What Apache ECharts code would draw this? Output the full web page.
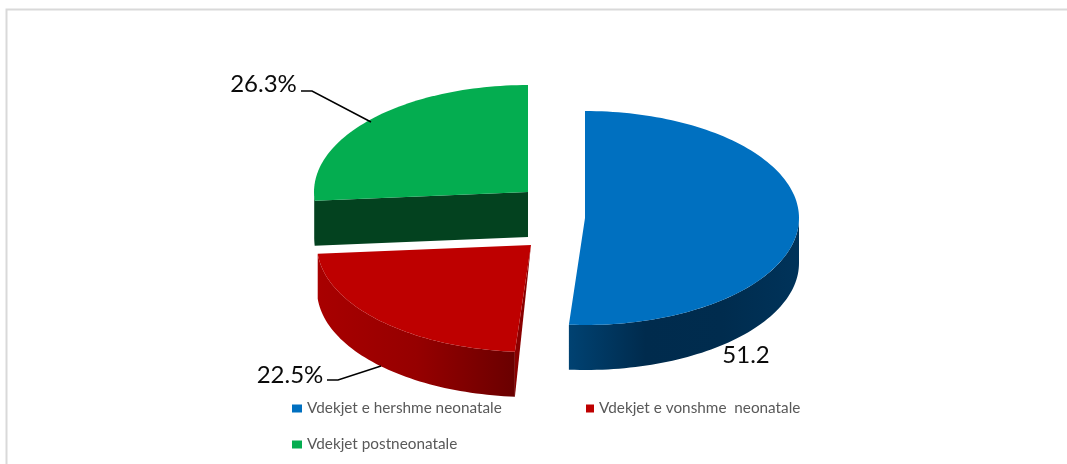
<!DOCTYPE html>
<html>
<head>
<meta charset="utf-8">
<style>html,body{margin:0;padding:0;background:#fff}#c{width:1067px;height:464px}</style>
<script src="https://cdn.jsdelivr.net/npm/echarts@6/dist/echarts.min.js"></script>
</head>
<body>
<div id="c"></div>
<script>
const categories = ['Vdekjet e hershme neonatale', 'Vdekjet e vonshme  neonatale', 'Vdekjet postneonatale'];
const values = [51.2, 22.5, 26.3];
const valueLabels = ['51.2', '22.5%', '26.3%'];

const RX = 214, RY = 107, DEPTH = 45;
const total = values.reduce((a, b) => a + b, 0);
const styles = [
  { cx: 585, cy: 218, top: '#0070C0', side: ['#004272', '#002B4D', '#002C4E', '#00335A'], cut: null,
    label: [746, 355], leader: null },
  { cx: 531, cy: 245, top: '#BE0000', side: ['#A80000', '#960000', '#6A0000'], cut: { color: '#8A0000', apex: 0, edge: 'start' },
    label: [290, 375], leader: [[327, 380], [338, 380], [381, 366]] },
  { cx: 528, cy: 192, top: '#04AD50', side: ['#03421F', '#03421F'], cut: { color: '#03421F', apex: 1, edge: 'start' },
    label: [263.5, 84], leader: [[301, 91], [312, 91], [371, 122]] }
];

function arcPoint(s, deg, dy) {
  const t = deg * Math.PI / 180;
  return [s.cx + RX * Math.sin(t), s.cy - RY * Math.cos(t) + (dy || 0)];
}
function arcPoints(s, a, b, dy) {
  const pts = [], n = Math.max(2, Math.ceil(Math.abs(b - a) / 1.5));
  for (let i = 0; i <= n; i++) pts.push(arcPoint(s, a + (b - a) * i / n, dy));
  return pts;
}
function makeRender(idx) {
  return function (params, api) {
    const v = api.value(0);
    let before = 0;
    for (let i = 0; i < idx; i++) before += values[i];
    const a = before / total * 360, b = a + v / total * 360;
    const s = styles[idx], children = [];
    const wa = Math.max(a, 90), wb = Math.min(b, 270);
    if (wb > wa) {
      const front = arcPoints(s, wa, wb, 0), back = arcPoints(s, wb, wa, DEPTH);
      let stops = s.side.map((c, i) => ({ offset: i / (s.side.length - 1), color: c }));
      children.push({ type: 'polygon', shape: { points: front.concat(back) },
        style: { fill: { type: 'linear', x: 0, y: 0, x2: 1, y2: 0, colorStops: stops } } });
    }
    if (s.cut) {
      const e0 = arcPoint(s, a, 0), e1 = arcPoint(s, a, DEPTH);
      const pts = [[s.cx, s.cy], e0, e1];
      if (s.cut.apex) pts.push([s.cx, s.cy + DEPTH * s.cut.apex]);
      children.push({ type: 'polygon', shape: { points: pts }, style: { fill: s.cut.color } });
    }
    children.push({ type: 'polygon', shape: { points: [[s.cx, s.cy]].concat(arcPoints(s, a, b, 0)) },
      style: { fill: s.top } });
    if (s.leader) children.push({ type: 'polyline', shape: { points: s.leader },
      style: { fill: 'none', stroke: '#000', lineWidth: 1.5 } });
    children.push({ type: 'text', x: s.label[0], y: s.label[1],
      style: { text: valueLabels[idx], fill: '#0a0a0a', font: '24px Lato', textAlign: 'center', textVerticalAlign: 'middle' } });
    return { type: 'group', children };
  };
}

const chart = echarts.init(document.getElementById('c'), null, { renderer: 'canvas' });
const legendPos = [[292, 401], [586, 401], [292, 437]];
const legendIconWidth = [10, 8, 10];
const drawOrder = [2, 1, 0];
chart.setOption({
  animation: false,
  backgroundColor: '#fff',
  graphic: [{ type: 'rect', silent: true, shape: { x: 6.5, y: 9.5, width: 1200, height: 600 },
    style: { fill: 'none', stroke: '#D9D9D9', lineWidth: 2 }, z: -10 }],
  legend: categories.map((name, i) => ({
    data: [name], left: legendPos[i][0], top: legendPos[i][1], padding: 0,
    icon: 'rect', itemWidth: legendIconWidth[i], itemHeight: 8, itemGap: 3,
    textStyle: { fontFamily: 'Lato', fontSize: 15.3, color: '#595959' },
    selectedMode: false
  })),
  series: drawOrder.map(i => ({
    type: 'custom', name: categories[i], coordinateSystem: 'none',
    z: 2 + (2 - i), silent: true,
    itemStyle: { color: styles[i].top },
    data: [[values[i]]],
    renderItem: makeRender(i)
  }))
});
</script>
</body>
</html>
